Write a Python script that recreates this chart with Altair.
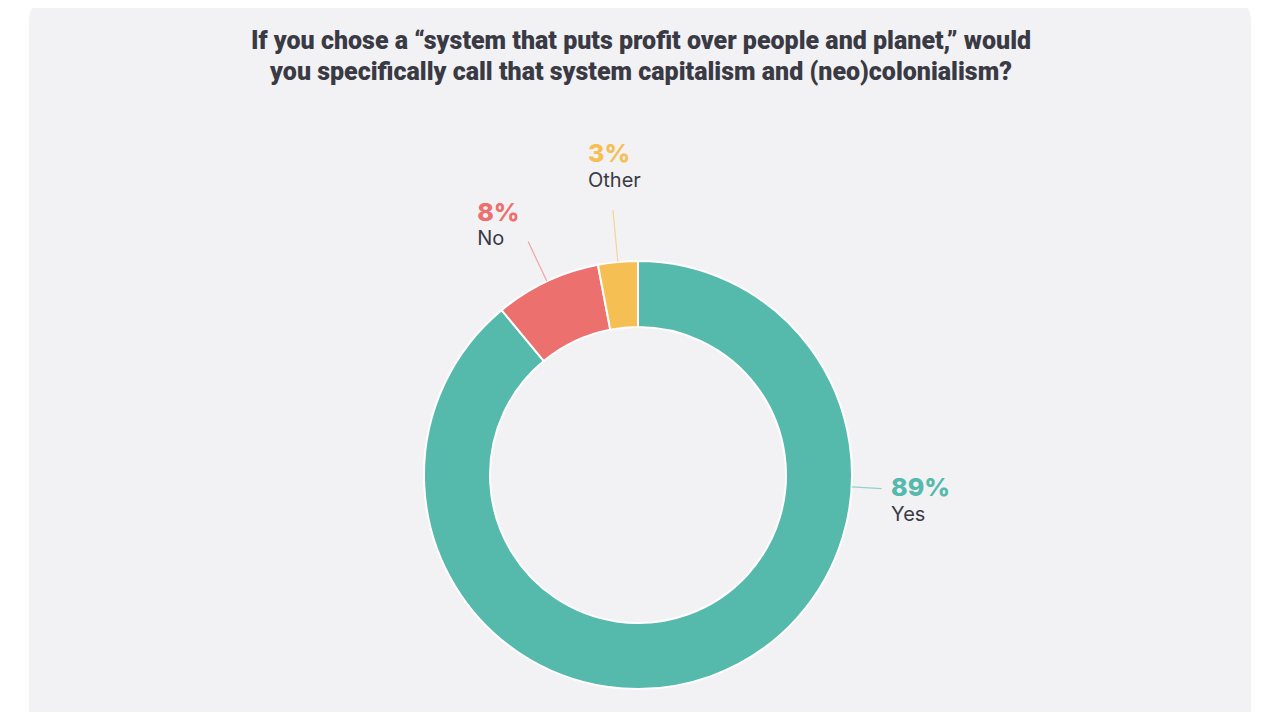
import math
import altair as alt
import pandas as pd

# ---------------- data ----------------
categories = ["Yes", "No", "Other"]
values = [89, 8, 3]
pct_labels = ["89%", "8%", "3%"]
colors = ["#55b9ab", "#ec706d", "#f6bf53"]
title_lines = [
    "If you chose a \u201csystem that puts profit over people and planet,\u201d would",
    "you specifically call that system capitalism and (neo)colonialism?",
]

# ---------------- layout ----------------
W, H = 1264, 704
CX, CY = 630, 467
R_OUT, R_IN = 214, 148
PANEL = "#f2f2f5"
TEXT = "#3a3a44"

label_angle_override = {"Yes": 93.2}
line_end_r = {"Yes": 244, "No": 258, "Other": 266}
# dx, dy(percent), dy(name) relative to leader-line end
text_offset = {"Yes": (9.5, 7.5, 32), "No": (-51, -21, 3), "Other": (-25, -48, -23)}

total = sum(values)
rows = []
cum = 0
for i, (c, v, p, col) in enumerate(zip(categories, values, pct_labels, colors)):
    start = cum / total * 360
    end = (cum + v) / total * 360
    cum += v
    ang = label_angle_override.get(c, (start + end) / 2)
    a = math.radians(ang)
    x1 = CX + R_OUT * math.sin(a)
    y1 = CY - R_OUT * math.cos(a)
    re = line_end_r[c]
    x2 = CX + re * math.sin(a)
    y2 = CY - re * math.cos(a)
    dx, dyp, dyn = text_offset[c]
    rows.append(dict(cat=c, val=v, pct=p, order=i, x1=x1, y1=y1, x2=x2, y2=y2,
                     tx=x2 + dx, ty_p=y2 + dyp, ty_n=y2 + dyn))
df = pd.DataFrame(rows)

color_scale = alt.Scale(domain=categories, range=colors)

panel = alt.Chart(pd.DataFrame({"k": [0]})).mark_rect(
    color=PANEL, cornerRadius=34
).encode(
    x=alt.value(21), x2=alt.value(1243), y=alt.value(-20), y2=alt.value(760)
)

donut = alt.Chart(df).mark_arc(
    outerRadius=R_OUT, innerRadius=R_IN, stroke="white", strokeWidth=2
).encode(
    theta=alt.Theta("val:Q", stack=True),
    order=alt.Order("order:Q"),
    color=alt.Color("cat:N", scale=color_scale, legend=None),
    x=alt.value(CX), y=alt.value(CY),
)

lines = alt.Chart(df).mark_rule(strokeWidth=1.2, opacity=0.6).encode(
    x=alt.X("x1:Q", scale=None), y=alt.Y("y1:Q", scale=None),
    x2="x2:Q", y2="y2:Q",
    color=alt.Color("cat:N", scale=color_scale, legend=None),
)

pct_text = alt.Chart(df).mark_text(
    align="left", baseline="alphabetic", font="Inter", fontSize=25, fontWeight=800
).encode(
    x=alt.X("tx:Q", scale=None), y=alt.Y("ty_p:Q", scale=None),
    text="pct:N",
    color=alt.Color("cat:N", scale=color_scale, legend=None),
)

name_text = alt.Chart(df).mark_text(
    align="left", baseline="alphabetic", font="Inter", fontSize=20, color=TEXT
).encode(
    x=alt.X("tx:Q", scale=None), y=alt.Y("ty_n:Q", scale=None),
    text="cat:N",
)

tdf = pd.DataFrame({"line": title_lines, "ty": [41, 72]})
title = alt.Chart(tdf).mark_text(
    align="center", baseline="alphabetic", font="Roboto", fontSize=25,
    fontWeight=900, color=TEXT
).encode(
    x=alt.value(633), y=alt.Y("ty:Q", scale=None), text="line:N"
)

chart = alt.layer(panel, donut, lines, pct_text, name_text, title).properties(
    width=W, height=H, padding=0,
    autosize=alt.AutoSizeParams(type="none"),
    background="white",
).configure_view(stroke=None)

chart.save("out.html", embed_options={"renderer": "svg", "actions": False})
